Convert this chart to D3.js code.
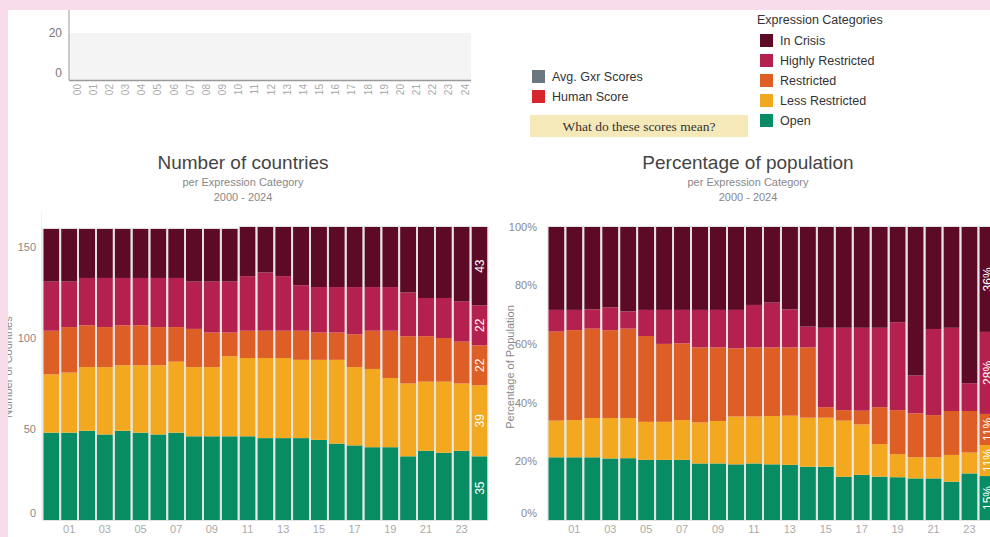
<!DOCTYPE html>
<html lang="en">
<head>
  <meta charset="UTF-8" />
  <title>Expression Categories</title>
  <script src="https://d3js.org/d3.v7.min.js"></script>
<style>
  body { margin:0; background:#f8dcea; }
  text { font-family: "Liberation Sans", Arial, sans-serif; }
</style>
</head>
<body>
<script type="text/javascript">
var width = 990;
var height = 537;

// data
var years = d3.range(2000, 2025);
var categories = ["Open", "Less Restricted", "Restricted", "Highly Restricted", "In Crisis"];
var colors = ["#078c63", "#f2a81f", "#dd5f26", "#b5214f", "#5c0a26"];

// number of countries per category
var openCountries            = [48,48,49,47,49,48,47,48,46,46,46,46,45,45,45,44,42,41,40,40,35,38,37,38,35];
var lessRestrictedCountries  = [32,33,35,37,36,37,38,39,38,38,44,43,44,44,43,44,46,43,43,38,40,38,39,37,39];
var restrictedCountries      = [24,25,23,22,22,22,21,19,21,19,13,15,15,15,16,15,15,18,21,26,26,25,24,23,22];
var highlyRestrictedCountries= [27,25,26,27,26,26,27,27,26,28,28,30,32,30,25,25,25,26,24,24,24,21,22,22,22];
var inCrisisCountries        = [29,29,27,27,27,27,27,27,29,29,29,27,25,27,32,33,33,33,33,33,36,39,39,41,43];

// percentage of population per category
var openPop             = [21.4,21.4,21.4,21.0,21.1,20.5,20.5,20.5,19.3,19.3,19.0,19.3,19.0,18.8,18.2,18.2,14.8,15.4,14.8,14.6,14.2,14.2,13.1,15.9,15.0];
var lessRestrictedPop   = [12.5,12.7,13.4,13.8,13.7,13.0,13.0,13.6,14.0,14.5,16.3,16.0,16.5,16.8,16.7,16.7,19.1,17.2,11.1,7.9,7.2,7.2,9.1,7.1,10.6];
var restrictedPop       = [30.4,30.7,30.5,30.0,30.5,29.3,26.6,26.2,25.6,25.1,23.3,23.6,23.4,23.3,24.0,3.6,3.6,4.7,12.6,15.0,15.0,14.4,15.0,14.2,10.6];
var highlyRestrictedPop = [7.4,6.9,6.6,7.8,5.9,8.9,11.6,11.4,12.8,12.8,13.1,14.5,15.3,13.0,7.1,27.1,28.1,28.3,27.1,30.0,12.9,29.4,28.4,9.5,28.0];
var inCrisisPop         = [28.3,28.3,28.1,27.4,28.8,28.3,28.3,28.3,28.3,28.3,28.3,26.6,25.8,28.1,34.0,34.4,34.4,34.4,34.4,32.5,50.7,34.8,34.4,53.3,35.8];

var legendScores = ["Avg. Gxr Scores", "Human Score"];
var legendScoreColors = ["#6b7780", "#d7262b"];
var topYears = d3.range(0, 25);

var svg = d3.select("body").append("svg").attr("width", width).attr("height", height);
svg.append("rect").attr("x", 8).attr("y", 10).attr("width", width - 8).attr("height", height - 10).attr("fill", "#fff");

// ---- small score chart at the top
var tx = d3.scalePoint().domain(topYears).range([77, 465]);
var ty = d3.scaleLinear().domain([0, 20]).range([80, 33]);
svg.append("rect").attr("x", 69).attr("y", ty(20)).attr("width", 402).attr("height", ty(0) - ty(20)).attr("fill", "#f4f4f4");
svg.append("line").attr("x1", 69).attr("x2", 69).attr("y1", 10).attr("y2", 80).attr("stroke", "#999");
svg.append("line").attr("x1", 69).attr("x2", 471).attr("y1", 80.5).attr("y2", 80.5).attr("stroke", "#999").attr("stroke-width", 1.5);
svg.selectAll(".ty").data([0, 20]).enter().append("text")
  .attr("x", 62).attr("y", function(d) { return d == 0 ? ty(d) - 7 : ty(d); })
  .attr("dy", "0.35em").attr("text-anchor", "end").attr("font-size", 12).attr("fill", "#777")
  .text(function(d) { return d; });
svg.selectAll(".tx").data(topYears).enter().append("text")
  .attr("transform", function(d) { return "translate(" + tx(d) + ",84) rotate(-90)"; })
  .attr("dy", "0.35em").attr("text-anchor", "end").attr("font-size", 10).attr("fill", "#aaa")
  .text(function(d) { return d3.format("02d")(d); });

// ---- legends
legendScores.forEach(function(name, i) {
  svg.append("rect").attr("x", 532).attr("y", 70 + i * 20).attr("width", 13).attr("height", 13).attr("fill", legendScoreColors[i]);
  svg.append("text").attr("x", 552).attr("y", 77 + i * 20).attr("dy", "0.35em").attr("font-size", 12.5).attr("fill", "#333").text(name);
});
svg.append("rect").attr("x", 530).attr("y", 115).attr("width", 218).attr("height", 22).attr("fill", "#f6e9b9");
svg.append("text").attr("x", 639).attr("y", 126).attr("dy", "0.35em").attr("text-anchor", "middle")
  .style("font-family", "'Liberation Serif', 'DejaVu Serif', serif").attr("font-size", 13.5).attr("fill", "#333")
  .text("What do these scores mean?");

svg.append("text").attr("x", 757).attr("y", 20).attr("dy", "0.35em").attr("font-size", 12.5).attr("fill", "#333").text("Expression Categories");
categories.slice().reverse().forEach(function(name, i) {
  svg.append("rect").attr("x", 760).attr("y", 34 + i * 20).attr("width", 13).attr("height", 13).attr("fill", colors[4 - i]);
  svg.append("text").attr("x", 780).attr("y", 41 + i * 20).attr("dy", "0.35em").attr("font-size", 12.5).attr("fill", "#333").text(name);
});

// ---- stacked bar charts
function stackChart(opt) {
  var rows = years.map(function(y, i) {
    var r = { year: y };
    categories.forEach(function(c, k) { r[c] = opt.series[k][i]; });
    return r;
  });
  var stacked = d3.stack().keys(categories)(rows);
  var x = d3.scaleBand().domain(years).range(opt.xr).paddingInner(0.1).paddingOuter(0.05);
  var y = d3.scaleLinear().domain(opt.yd).range([520, 227]);
  var g = svg.append("g");

  // titles
  g.append("text").attr("x", opt.cx).attr("y", 169).attr("text-anchor", "middle").attr("font-size", 19).attr("fill", "#444").text(opt.title);
  g.append("text").attr("x", opt.cx).attr("y", 186).attr("text-anchor", "middle").attr("font-size", 11).attr("fill", "#888").text("per Expression Category");
  g.append("text").attr("x", opt.cx).attr("y", 201).attr("text-anchor", "middle").attr("font-size", 11).attr("fill", "#888").text("2000 - 2024");

  g.selectAll(".layer").data(stacked).enter().append("g")
    .attr("fill", function(d, k) { return colors[k]; })
    .selectAll("rect").data(function(d) { return d; }).enter().append("rect")
    .attr("x", function(d) { return x(d.data.year); })
    .attr("width", x.bandwidth())
    .attr("y", function(d) { return y(d[1]); })
    .attr("height", function(d) { return y(d[0]) - y(d[1]); });

  // thin outline round each bar
  g.selectAll(".outline").data(rows).enter().append("rect")
    .attr("x", function(d) { return x(d.year) - 0.5; })
    .attr("width", x.bandwidth() + 1)
    .attr("y", function(d) { return y(d3.sum(categories, function(c) { return d[c]; })) - 0.5; })
    .attr("height", function(d) { return 520 - y(d3.sum(categories, function(c) { return d[c]; })) + 1; })
    .attr("fill", "none").attr("stroke", "#e2e2e2");

  // y ticks
  g.selectAll(".yt").data(opt.ticks).enter().append("text")
    .attr("x", opt.yLabelX).attr("y", function(d) { return d == 0 ? y(d) - 7 : y(d); })
    .attr("dy", "0.35em").attr("text-anchor", "end").attr("font-size", 11).attr("fill", "#888")
    .text(opt.fmt);

  // x ticks (odd years)
  g.selectAll(".xt").data(years.filter(function(d) { return d % 2 == 1; })).enter().append("text")
    .attr("x", function(d) { return x(d) + x.bandwidth() / 2; }).attr("y", 529)
    .attr("dy", "0.35em").attr("text-anchor", "middle").attr("font-size", 11).attr("fill", "#aaa")
    .text(function(d) { return d3.format("02d")(d % 100); });

  // values on the last bar
  var last = years[years.length - 1];
  g.selectAll(".lbl").data(stacked).enter().append("text")
    .attr("transform", function(d) {
      var s = d[d.length - 1];
      return "translate(" + (x(last) + x.bandwidth() / 2) + "," + ((y(s[0]) + y(s[1])) / 2) + ") rotate(-90)";
    })
    .attr("dy", "0.35em").attr("text-anchor", "middle").attr("font-size", 12).attr("fill", "#fff")
    .text(function(d) { return opt.lbl(d[d.length - 1].data[d.key]); });

  // axis title
  g.append("text").attr("transform", "translate(" + opt.axX + ",367) rotate(-90)")
    .attr("text-anchor", "middle").attr("font-size", 11).attr("fill", "#888").text(opt.axTitle);
  return x;
}

svg.append("line").attr("x1", 41.5).attr("x2", 41.5).attr("y1", 212).attr("y2", 520).attr("stroke", "#f0f0f0");

stackChart({
  series: [openCountries, lessRestrictedCountries, restrictedCountries, highlyRestrictedCountries, inCrisisCountries],
  xr: [42.4, 488.4], yd: [0, 161], cx: 243,
  title: "Number of countries", ticks: [0, 50, 100, 150], yLabelX: 36,
  fmt: function(d) { return d; }, lbl: function(v) { return d3.format("d")(v); },
  axX: 12, axTitle: "Number of Countries"
});

stackChart({
  series: [openPop, lessRestrictedPop, restrictedPop, highlyRestrictedPop, inCrisisPop],
  xr: [547.4, 996.4], yd: [0, 100], cx: 748,
  title: "Percentage of population", ticks: [0, 20, 40, 60, 80, 100], yLabelX: 537,
  fmt: function(d) { return d + "%"; }, lbl: function(v) { return Math.round(v) + "%"; },
  axX: 514, axTitle: "Percentage of Population"
});

// pink frame over the clipped left title
svg.append("rect").attr("x", 0).attr("y", 0).attr("width", 8).attr("height", height).attr("fill", "#f8dcea");
svg.append("rect").attr("x", 0).attr("y", 0).attr("width", width).attr("height", 10).attr("fill", "#f8dcea");
</script>
</body>
</html>
